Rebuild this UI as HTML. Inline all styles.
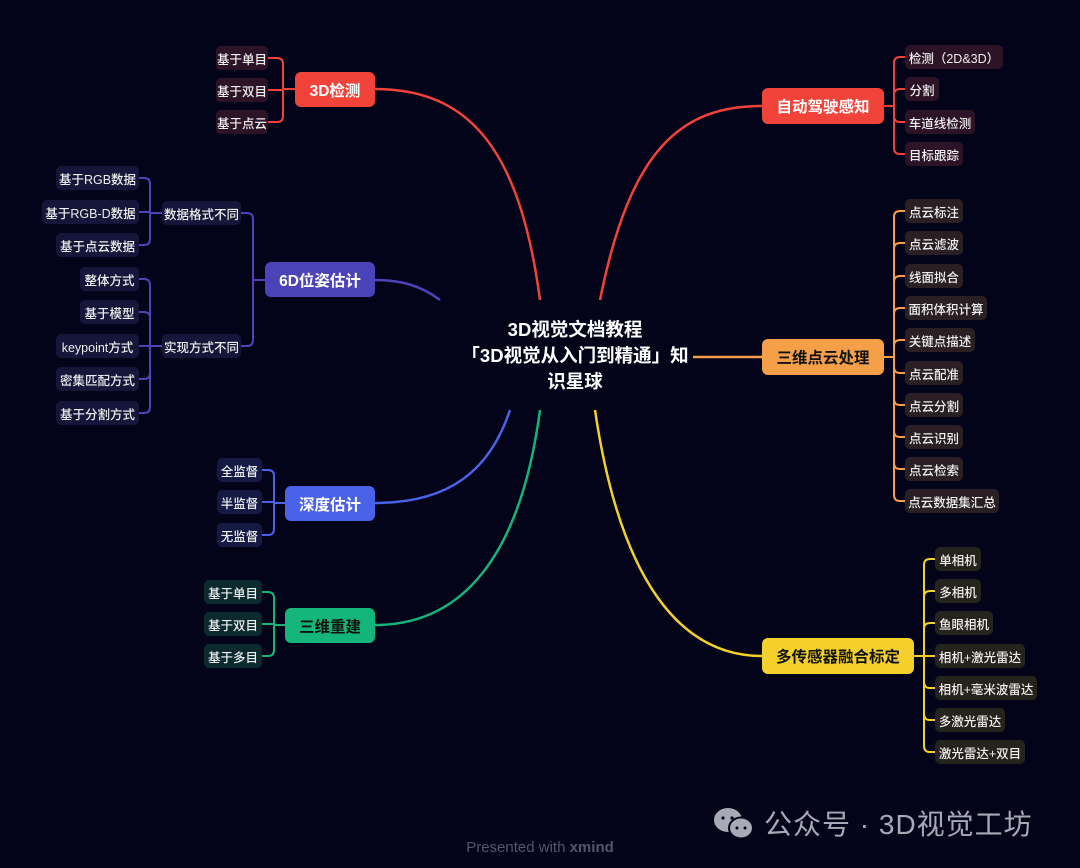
<!DOCTYPE html>
<html><head><meta charset="utf-8"><style>
html,body{margin:0;padding:0;background:#03031a;}
#root{position:relative;width:1080px;height:868px;overflow:hidden;background:#03031a;font-family:"Liberation Sans","Noto Sans CJK SC",sans-serif;}
.n{position:absolute;display:flex;align-items:center;justify-content:center;white-space:nowrap;box-sizing:border-box;}
svg{position:absolute;left:0;top:0;}
</style></head><body>
<div id="root">
<svg id="lines" width="1080" height="868"></svg>
<div class="n" style="left:430px;top:316px;width:290px;height:80px;color:#fff;font-size:18.5px;font-weight:bold;line-height:26px;text-align:center;flex-direction:column;">
<div>3D视觉文档教程</div><div>「3D视觉从入门到精通」知</div><div>识星球</div></div>
<div class="n" style="left:712px;top:803px;width:360px;height:40px;justify-content:flex-start;color:#a9a9b6;font-size:28px;letter-spacing:1px;">
<svg width="46" height="40" style="position:relative;"><ellipse cx="16" cy="17" rx="14" ry="12" fill="#a9a9b6"/><ellipse cx="29" cy="25" rx="12" ry="10.5" fill="#a9a9b6" stroke="#03031a" stroke-width="2"/><circle cx="11" cy="15" r="1.6" fill="#03031a"/><circle cx="20" cy="15" r="1.6" fill="#03031a"/><circle cx="25" cy="25" r="1.5" fill="#03031a"/><circle cx="33" cy="25" r="1.5" fill="#03031a"/></svg>
<span style="margin-left:6px;">公众号 · 3D视觉工坊</span></div>
<div class="n" style="left:440px;top:835px;width:200px;height:24px;color:#55556a;font-size:15px;">Presented with&nbsp;<b>xmind</b></div>
</div>
<script>
const root=document.getElementById('root');
const svg=document.getElementById('lines');
const NS='http://www.w3.org/2000/svg';
function box(x,y,w,h,text,bg,color,fs,r,name,fw){
  const d=document.createElement('div');
  d.className='n';
  d.style.cssText=`left:${x}px;top:${y}px;width:${w}px;height:${h}px;background:${bg};color:${color};font-size:${fs}px;border-radius:${r}px;font-weight:${fw||500};`;
  d.textContent=text;
  
  
  root.appendChild(d);
  return {x,y,w,h};
}
function path(d,c,w){
  const p=document.createElementNS(NS,'path');
  p.setAttribute('d',d);p.setAttribute('stroke',c);p.setAttribute('stroke-width',w||2);p.setAttribute('fill','none');
  
  
  svg.appendChild(p);
}
function bracket(px,py,bx,kids,c){
  path(`M${px},${py}H${bx}`,c);
  kids.forEach(k=>{
    const dy=k[1]-py; const r=Math.min(6,Math.abs(dy));
    if(Math.abs(dy)<1){path(`M${bx},${py}H${k[0]}`,c);return;}
    const s=dy>0?1:-1; const dir=k[0]>bx?1:-1;
    path(`M${bx},${py}V${k[1]-s*r}Q${bx},${k[1]} ${bx+dir*r},${k[1]}H${k[0]}`,c);
  });
}
const RED='#f2433a',PUR='#4b44b8',BLU='#4a62e8',GRN='#13b57a',ORG='#f5a049',YEL='#f5d02a';
path('M540,300 C520,150 470,89 375,89',RED,2.5);
path('M600,300 C630,150 680,106 762,106',RED,2.5);
path('M440,300 C420,285 400,280 375,280',PUR,2.5);
path('M510,410 C490,470 450,503 375,503',BLU,2.5);
path('M540,410 C520,560 460,625 375,625',GRN,2.5);
path('M693,357 H762',ORG,2.5);
path('M595,410 C620,580 680,656 762,656',YEL,2.5);

box(295,72,80,35,'3D检测',RED,'#fff',15.5,6,'topic-3d-detection',600);
const l1=['基于单目','基于双目','基于点云'];const l1y=[58,90,122];
l1.forEach((t,i)=>box(216,l1y[i]-12,52,24,t,'#2c1426','#eee',12.5,5,'leaf-3d-detection-'+i));
bracket(295,89,283,l1y.map(y=>[268,y]),RED);

box(265,262,110,35,'6D位姿估计',PUR,'#fff',15.5,6,'topic-6d-pose',600);
box(162,201,79,24,'数据格式不同','#16163a','#eee',12.5,5,'sub-data-format');
box(162,334,79,24,'实现方式不同','#16163a','#eee',12.5,5,'sub-implementation');
bracket(265,280,253,[[241,213],[241,346]],PUR);
const a=[['基于RGB数据',56],['基于RGB-D数据',42],['基于点云数据',56]];const ay=[178,212,245];
a.forEach((t,i)=>box(t[1],ay[i]-12,139-t[1],24,t[0],'#16163a','#eee',12.5,5,'leaf-data-format-'+i));
bracket(162,213,150,ay.map(y=>[139,y]),PUR);
const b=[['整体方式',80],['基于模型',80],['keypoint方式',56],['密集匹配方式',56],['基于分割方式',56]];const by=[279,312,346,379,413];
b.forEach((t,i)=>box(t[1],by[i]-12,139-t[1],24,t[0],'#16163a','#eee',12.5,5,'leaf-implementation-'+i));
bracket(162,346,150,by.map(y=>[139,y]),PUR);

box(285,486,90,35,'深度估计',BLU,'#fff',15.5,6,'topic-depth-estimation',600);
const c=['全监督','半监督','无监督'];const cy=[470,502,535];
c.forEach((t,i)=>box(217,cy[i]-12,45,24,t,'#141a44','#eee',12.5,5,'leaf-depth-'+i));
bracket(285,503,274,cy.map(y=>[262,y]),BLU);

box(285,608,90,35,'三维重建',GRN,'#111',15.5,6,'topic-3d-reconstruction',600);
const g=['基于单目','基于双目','基于多目'];const gy=[592,624,656];
g.forEach((t,i)=>box(204,gy[i]-12,58,24,t,'#0a2a2e','#eee',12.5,5,'leaf-reconstruction-'+i));
bracket(285,625,274,gy.map(y=>[262,y]),GRN);

box(762,88,122,36,'自动驾驶感知',RED,'#fff',15.5,6,'topic-autonomous-driving',600);
const r1=[['检测（2D&3D）',98],['分割',34],['车道线检测',70],['目标跟踪',58]];const r1y=[57,89,122,154];
r1.forEach((t,i)=>box(905,r1y[i]-12,t[1],24,t[0],'#2c1426','#eee',12.5,5,'leaf-driving-'+i));
bracket(884,106,894,r1y.map(y=>[905,y]),RED);

box(762,339,122,36,'三维点云处理',ORG,'#111',15.5,6,'topic-point-cloud',600);
const p=[['点云标注',58],['点云滤波',58],['线面拟合',58],['面积体积计算',82],['关键点描述',70],['点云配准',58],['点云分割',58],['点云识别',58],['点云检索',58],['点云数据集汇总',94]];
const py=[211,243,276,308,340,373,405,437,469,501];
p.forEach((t,i)=>box(905,py[i]-12,t[1],24,t[0],'#2a2024','#eee',12.5,5,'leaf-point-cloud-'+i));
bracket(884,357,894,py.map(y=>[905,y]),ORG);

box(762,638,152,36,'多传感器融合标定',YEL,'#111',15.5,6,'topic-sensor-fusion',600);
const f=[['单相机',46],['多相机',46],['鱼眼相机',58],['相机+激光雷达',90],['相机+毫米波雷达',102],['多激光雷达',70],['激光雷达+双目',90]];
const fy=[559,591,623,656,688,720,752];
f.forEach((t,i)=>box(935,fy[i]-12,t[1],24,t[0],'#26221c','#eee',12.5,5,'leaf-fusion-'+i));
bracket(914,656,924,fy.map(y=>[935,y]),YEL);
</script>
</body></html>
